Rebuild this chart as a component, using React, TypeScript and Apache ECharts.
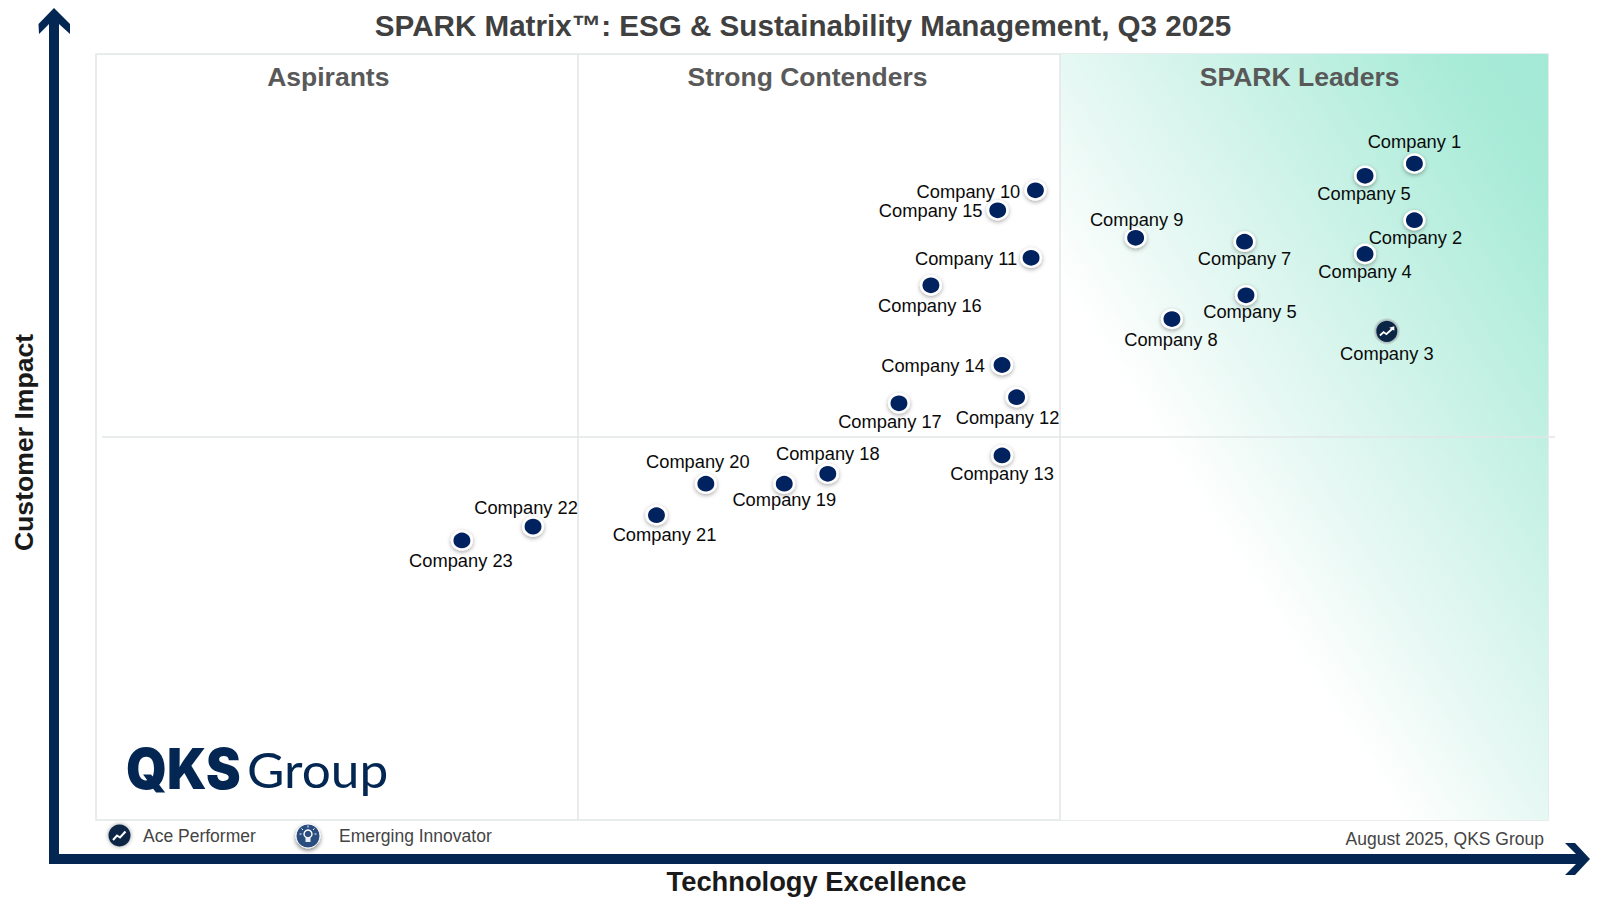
import React, { useEffect, useRef } from "react";
import * as echarts from "echarts";

const companies = ["Company 1","Company 5","Company 2","Company 4","Company 7","Company 5","Company 8","Company 9","Company 10","Company 15","Company 11","Company 16","Company 14","Company 12","Company 17","Company 13","Company 18","Company 19","Company 20","Company 21","Company 22","Company 23"];
const techExcellence = [90.8,87.4,90.8,87.4,79.1,79.2,74.1,71.6,64.7,62.1,64.4,57.5,62.4,63.4,55.3,62.4,50.4,47.4,42.0,38.6,30.1,25.2];
const customerImpact = [85.7,84.1,78.3,73.9,75.5,68.5,65.4,76.0,82.2,79.6,73.4,69.8,59.4,55.2,54.4,47.6,45.2,43.9,43.9,39.8,38.3,36.5];
const aceCompany = ["Company 3"];
const aceTech = [88.9];
const aceImpact = [63.8];
const labelDx = [0,-1,1,0,0,4,-1,1,-67,-67,-65,-1,-69,-9,-9,0,0,0,-8,8,-7,-1];
const labelDy = [-22,18,17,18,17,16,20,-18,1,0,1,20,1,20,18,18,-20,16,-22,19,-19,20];
const quadrants = ["Aspirants","Strong Contenders","SPARK Leaders"];
const quadrantCentres = [16.0,49.0,82.9];
const title = "SPARK Matrix™: ESG & Sustainability Management, Q3 2025";
const xName = "Technology Excellence";
const yName = "Customer Impact";
const legendNames = ["Ace Performer","Emerging Innovator"];
const credit = "August 2025, QKS Group";

const FONT = "'Liberation Sans', Arial, sans-serif";
const NAVY = "#032752";
const ZIGZAG = "path://M0 9 L3.6 5 L6 7 L10 2.6 L8.6 1.6 L13 0 L13 4.6 L11.6 3.6 L6.2 9.6 L3.8 7.4 L1 10.6 Z";
const RAYS = [[-8.5,-2,-6.5,-2],[-6.5,-7.5,-5,-6],[0,-10.5,0,-8.5],[6.5,-7.5,5,-6],[8.5,-2,6.5,-2]];

export default function App() {
  const ref = useRef<HTMLDivElement>(null);
  useEffect(() => {
    const chart = echarts.init(ref.current!, undefined, { renderer: "svg" });
    const points = companies.map((name, i) => ({
      name,
      value: [techExcellence[i], customerImpact[i]],
      label: { offset: [labelDx[i], labelDy[i]] },
    }));
    chart.setOption({
      animation: false,
      backgroundColor: "#ffffff",
      grid: { left: 96, top: 54, width: 1452, height: 766, show: true, borderColor: "#e2e6e6", borderWidth: 1.5, backgroundColor: "#ffffff", outerBoundsMode: "none", containLabel: false },
      xAxis: {
        type: "value", min: 0, max: 100,
        axisLine: { show: false }, axisTick: { show: false }, axisLabel: { show: false }, splitLine: { show: false },
        name: xName, nameLocation: "middle", nameGap: 48,
        nameTextStyle: { fontFamily: FONT, fontWeight: "bold", fontSize: 27.3, color: "#1a1a1a", padding: [0, 0, 0, -11] },
      },
      yAxis: {
        type: "value", min: 0, max: 100,
        axisLine: { show: false }, axisTick: { show: false }, axisLabel: { show: false }, splitLine: { show: false },
        name: yName, nameLocation: "middle", nameGap: 59, nameRotate: 90,
        nameTextStyle: { fontFamily: FONT, fontWeight: "bold", fontSize: 26.6, color: "#1a1a1a", padding: [0, 11, 0, 0] },
      },
      series: [
        {
          type: "scatter", name: "Vendors", z: 5,
          data: points,
          symbol: "circle", symbolSize: [19.5, 18],
          itemStyle: { opacity: 1, color: "#04205f", borderColor: "#ffffff", borderWidth: 2.5, shadowColor: "rgba(0,0,0,0.35)", shadowBlur: 4, shadowOffsetY: 1.5 },
          label: { show: true, position: "inside", formatter: "{b}", fontFamily: FONT, fontSize: 18.3, color: "#0a0a0a" },
          markArea: {
            silent: true, z: 1,
            itemStyle: {
              opacity: 1,
              color: { type: "linear", x: 1, y: 0, x2: 0, y2: 1, colorStops: [
                { offset: 0, color: "#a3e9d5" }, { offset: 0.1, color: "#a8ebd7" }, { offset: 0.5, color: "#e6f8f3" }, { offset: 0.65, color: "#ffffff" }, { offset: 1, color: "#ffffff" },
              ] },
            },
            data: [[{ xAxis: 66.4, yAxis: 100 }, { xAxis: 100, yAxis: 0 }]],
          },
          markLine: {
            silent: true, symbol: "none", z: 2,
            lineStyle: { color: "#e2e6e6", width: 1.5, type: "solid" },
            label: { show: false },
            data: [{ xAxis: 33.16 }, { xAxis: 66.4 }],
          },
        },
        {
          type: "scatter", name: "Ace Performer", z: 5,
          data: aceCompany.map((name, i) => ({ name, value: [aceTech[i], aceImpact[i]] })),
          symbol: "circle", symbolSize: 23.5,
          itemStyle: { opacity: 1, color: "#0b2545", borderColor: "rgba(190,210,205,0.9)", borderWidth: 2.5 },
          label: { show: true, position: "inside", offset: [0, 22], formatter: "{b}", fontFamily: FONT, fontSize: 18.3, color: "#0a0a0a" },
        },
        {
          type: "scatter", name: "Ace Mark", z: 6, silent: true,
          data: aceCompany.map((_, i) => [aceTech[i], aceImpact[i]]),
          symbol: ZIGZAG, symbolSize: [15, 10],
          itemStyle: { opacity: 1, color: "#ffffff" },
        },
      ],
      graphic: [
        { type: "line", z: 3, shape: { x1: 102, y1: 437, x2: 1555, y2: 437 }, style: { stroke: "#e2e6e6", lineWidth: 1.5 } },
        { type: "polygon", z: 10, shape: { points: [[59,854],[1576,854],[1565,843],[1575,843],[1590,859],[1575,875],[1565,875],[1576,864],[49,864],[49,24],[39,34],[38.5,24],[54,8],[70,24],[70,34],[59,24]] }, style: { fill: NAVY } },
        { type: "text", z: 10, style: { text: title, x: 803, y: 25.5, align: "center", verticalAlign: "middle", font: `bold 29.6px ${FONT}`, fill: "#404040" } },
        ...quadrants.map((q, i) => ({ type: "text", z: 10, style: { text: q, x: 96 + quadrantCentres[i] * 14.52, y: 77, align: "center", verticalAlign: "middle", font: `bold 26.5px ${FONT}`, fill: "#595959" } })),
        { type: "text", z: 10, x: 126, y: 769, scaleX: 0.93, style: { text: "QKS", x: 0, y: 0, verticalAlign: "middle", font: "900 56px Inter, Lato, sans-serif", fill: NAVY } },
        { type: "text", z: 10, x: 247, y: 770, scaleX: 1.07, style: { text: "Group", x: 0, y: 0, verticalAlign: "middle", font: "400 48px Lato, Inter, sans-serif", fill: NAVY } },
        { type: "circle", z: 10, shape: { cx: 119.5, cy: 835.5, r: 11 }, style: { fill: "#0b2545", shadowColor: "rgba(0,0,0,0.4)", shadowBlur: 4 } },
        { type: "polyline", z: 11, shape: { points: [[113,840],[117,835.5],[120,837.5],[125.5,831.5]] }, style: { stroke: "#fff", lineWidth: 2, fill: "none" } },
        { type: "circle", z: 10, shape: { cx: 308, cy: 836, r: 12 }, style: { fill: "#2b4d80", stroke: "#ffffff", lineWidth: 1, shadowColor: "rgba(0,0,0,0.5)", shadowBlur: 4, shadowOffsetY: 2 } },
        { type: "circle", z: 11, shape: { cx: 308, cy: 834, r: 4 }, style: { fill: "#2b4d80", stroke: "#ffffff", lineWidth: 1.4 } },
        { type: "rect", z: 11, shape: { x: 305.5, y: 838, width: 5, height: 4 }, style: { fill: "#e8eef5" } },
        ...RAYS.map((r) => ({ type: "line", z: 11, shape: { x1: 308 + r[0], y1: 834 + r[1] + 2, x2: 308 + r[2], y2: 834 + r[3] + 2 }, style: { stroke: "#ffffff", lineWidth: 1 } })),
        { type: "text", z: 10, style: { text: legendNames[0], x: 143, y: 836, verticalAlign: "middle", font: `17.5px ${FONT}`, fill: "#444444" } },
        { type: "text", z: 10, style: { text: legendNames[1], x: 339, y: 836, verticalAlign: "middle", font: `17.5px ${FONT}`, fill: "#444444" } },
        { type: "text", z: 10, style: { text: credit, x: 1544, y: 839, align: "right", verticalAlign: "middle", font: `17.5px ${FONT}`, fill: "#444444" } },
      ],
    });
    return () => chart.dispose();
  }, []);
  return <div ref={ref} style={{ position: "absolute", left: 0, top: 0, width: 1600, height: 900 }} />;
}
